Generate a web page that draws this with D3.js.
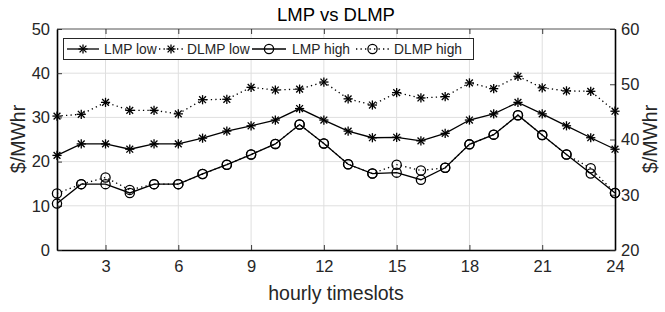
<!DOCTYPE html>
<html>
<head>
<meta charset="utf-8">
<script src="https://cdn.jsdelivr.net/npm/d3@7"></script>
<style>
  body { margin: 0; background: #fff; }
  svg { display: block; font-family: "Liberation Sans", Arial, sans-serif; }
</style>
</head>
<body>
<svg id="chart" width="665" height="312"></svg>
<script>
const hours = d3.range(1, 25);
const lmpLow  = [21.4, 24.0, 24.0, 22.8, 24.0, 24.0, 25.3, 26.9, 28.1, 29.4, 32.0, 29.4, 26.9, 25.4, 25.5, 24.7, 26.4, 29.4, 30.8, 33.4, 30.8, 28.1, 25.4, 22.8];
const dlmpLow = [30.3, 30.7, 33.4, 31.6, 31.6, 30.8, 34.0, 34.1, 36.8, 36.2, 36.4, 38.0, 34.2, 32.8, 35.6, 34.4, 34.7, 37.8, 36.5, 39.3, 36.7, 36.0, 35.9, 31.4];
const lmpHigh = [10.5, 14.9, 14.9, 12.9, 14.9, 14.9, 17.2, 19.3, 21.6, 24.0, 28.4, 24.1, 19.4, 17.3, 17.5, 15.9, 18.6, 23.9, 26.1, 30.5, 26.0, 21.6, 17.3, 12.9];
const dlmpHigh = [12.8, 14.9, 16.4, 13.6, 14.9, 14.9, 17.2, 19.3, 21.6, 24.0, 28.4, 24.1, 19.4, 17.3, 19.3, 18.0, 18.6, 23.9, 26.1, 30.5, 26.0, 21.6, 18.5, 12.9];
const seriesNames = ["LMP low", "DLMP low", "LMP high", "DLMP high"];
const xTicks = [3, 6, 9, 12, 15, 18, 21, 24];
const yLeftTicks = [0, 10, 20, 30, 40, 50];
const yRightTicks = [20, 30, 40, 50, 60];

const series = [
  { name: seriesNames[0], values: lmpLow,  marker: "star",   dash: null },
  { name: seriesNames[1], values: dlmpLow, marker: "star",   dash: "1.3,3.2" },
  { name: seriesNames[2], values: lmpHigh, marker: "circle", dash: null },
  { name: seriesNames[3], values: dlmpHigh, marker: "circle", dash: "1.3,3.2" }
];

const svg = d3.select("#chart");
const L = 57, R = 615, T = 29, B = 250;
const textColor = "#262626";

const x = d3.scaleLinear().domain([1, 24]).range([L, R]);
const yL = d3.scaleLinear().domain([0, 50]).range([B, T]);
const yR = d3.scaleLinear().domain([20, 60]).range([B, T]);

// grid
const grid = svg.append("g");
grid.selectAll("line.gx").data(xTicks.filter(d => d < 24)).join("line")
  .attr("x1", d => x(d)).attr("x2", d => x(d)).attr("y1", T).attr("y2", B)
  .attr("stroke", "#dfdfdf").attr("stroke-width", 1);
grid.selectAll("line.gy").data(yLeftTicks.filter(d => d > 0 && d < 50)).join("line")
  .attr("x1", L).attr("x2", R).attr("y1", d => yL(d)).attr("y2", d => yL(d))
  .attr("stroke", "#dfdfdf").attr("stroke-width", 1);

// top box line
svg.append("line").attr("x1", L).attr("x2", R).attr("y1", T).attr("y2", T)
  .attr("stroke", textColor).attr("stroke-width", 0.8);

// axes
const tickLen = 5;
const xAxis = d3.axisBottom(x).tickValues(xTicks).tickSizeInner(-tickLen).tickSizeOuter(0).tickPadding(10);
const gx = svg.append("g").attr("transform", `translate(0,${B})`).call(xAxis);
const xAxisTop = d3.axisTop(x).tickValues(xTicks).tickSizeInner(-tickLen).tickSizeOuter(0).tickFormat("");
const gxt = svg.append("g").attr("transform", `translate(0,${T})`).call(xAxisTop);
gxt.select(".domain").remove();

const yAxisL = d3.axisLeft(yL).tickValues(yLeftTicks).tickSizeInner(-tickLen).tickSizeOuter(0).tickPadding(7);
const gyl = svg.append("g").attr("transform", `translate(${L},0)`).call(yAxisL);
const yAxisR = d3.axisRight(yR).tickValues(yRightTicks).tickSizeInner(-tickLen).tickSizeOuter(0).tickPadding(6);
const gyr = svg.append("g").attr("transform", `translate(${R},0)`).call(yAxisR);

[gx, gyl, gyr].forEach(g => {
  g.select(".domain").attr("stroke", "#000").attr("stroke-width", 1.6);
  g.selectAll(".tick text").attr("fill", textColor).style("font-size", "16.5px")
    .style("font-family", "'Liberation Sans', Arial, sans-serif");
});
[gx, gxt, gyl, gyr].forEach(g => g.selectAll(".tick line").attr("stroke", textColor).attr("stroke-width", 0.9));
gx.selectAll(".tick text").attr("dy", "0.71em");

// lines and markers
const line = d3.line().x((d, i) => x(hours[i])).y(d => yL(d));

function drawMarker(g, type, cx, cy) {
  if (type === "circle") {
    g.append("circle").attr("cx", cx).attr("cy", cy).attr("r", 4.6)
      .attr("fill", "none").attr("stroke", "#000").attr("stroke-width", 1.3);
  } else {
    const a = 4.6, b = 3.4;
    const segs = [[-a, 0, a, 0], [0, -a, 0, a], [-b, -b, b, b], [-b, b, b, -b]];
    segs.forEach(s => g.append("line")
      .attr("x1", cx + s[0]).attr("y1", cy + s[1]).attr("x2", cx + s[2]).attr("y2", cy + s[3])
      .attr("stroke", "#000").attr("stroke-width", 1.3));
  }
}

const plot = svg.append("g");
series.forEach(s => {
  plot.append("path").datum(s.values).attr("d", line)
    .attr("fill", "none").attr("stroke", "#000").attr("stroke-width", 1.3)
    .attr("stroke-dasharray", s.dash);
  const mg = plot.append("g");
  s.values.forEach((v, i) => drawMarker(mg, s.marker, x(hours[i]), yL(v)));
});

// legend
const lg = svg.append("g");
lg.append("rect").attr("x", 63.5).attr("y", 38.5).attr("width", 410).attr("height", 21)
  .attr("fill", "#fff").attr("stroke", "#262626").attr("stroke-width", 1);
const legendSample = [[67, 99], [159, 183], [252, 286], [356, 389]];
const legendText = [104, 187, 292, 394];
series.forEach((s, i) => {
  const [a, b] = legendSample[i], yy = 49;
  lg.append("line").attr("x1", a).attr("x2", b).attr("y1", yy).attr("y2", yy)
    .attr("stroke", "#000").attr("stroke-width", 1.3).attr("stroke-dasharray", s.dash);
  drawMarker(lg, s.marker, (a + b) / 2, yy);
  lg.append("text").attr("x", legendText[i]).attr("y", yy + 5).text(s.name)
    .attr("fill", textColor).style("font-size", "13.8px");
});

// title and labels
svg.append("text").attr("x", 336).attr("y", 21).attr("text-anchor", "middle")
  .text("LMP vs DLMP").attr("fill", "#000").style("font-size", "18.5px");
svg.append("text").attr("x", 336).attr("y", 300).attr("text-anchor", "middle")
  .text("hourly timeslots").attr("fill", textColor).style("font-size", "19.5px");
svg.append("text").attr("transform", "translate(25,139) rotate(-90)").attr("text-anchor", "middle")
  .text("$/MWhr").attr("fill", textColor).style("font-size", "19.5px");
svg.append("text").attr("transform", "translate(657,139) rotate(-90)").attr("text-anchor", "middle")
  .text("$/MWhr").attr("fill", textColor).style("font-size", "19.5px");
</script>
</body>
</html>
